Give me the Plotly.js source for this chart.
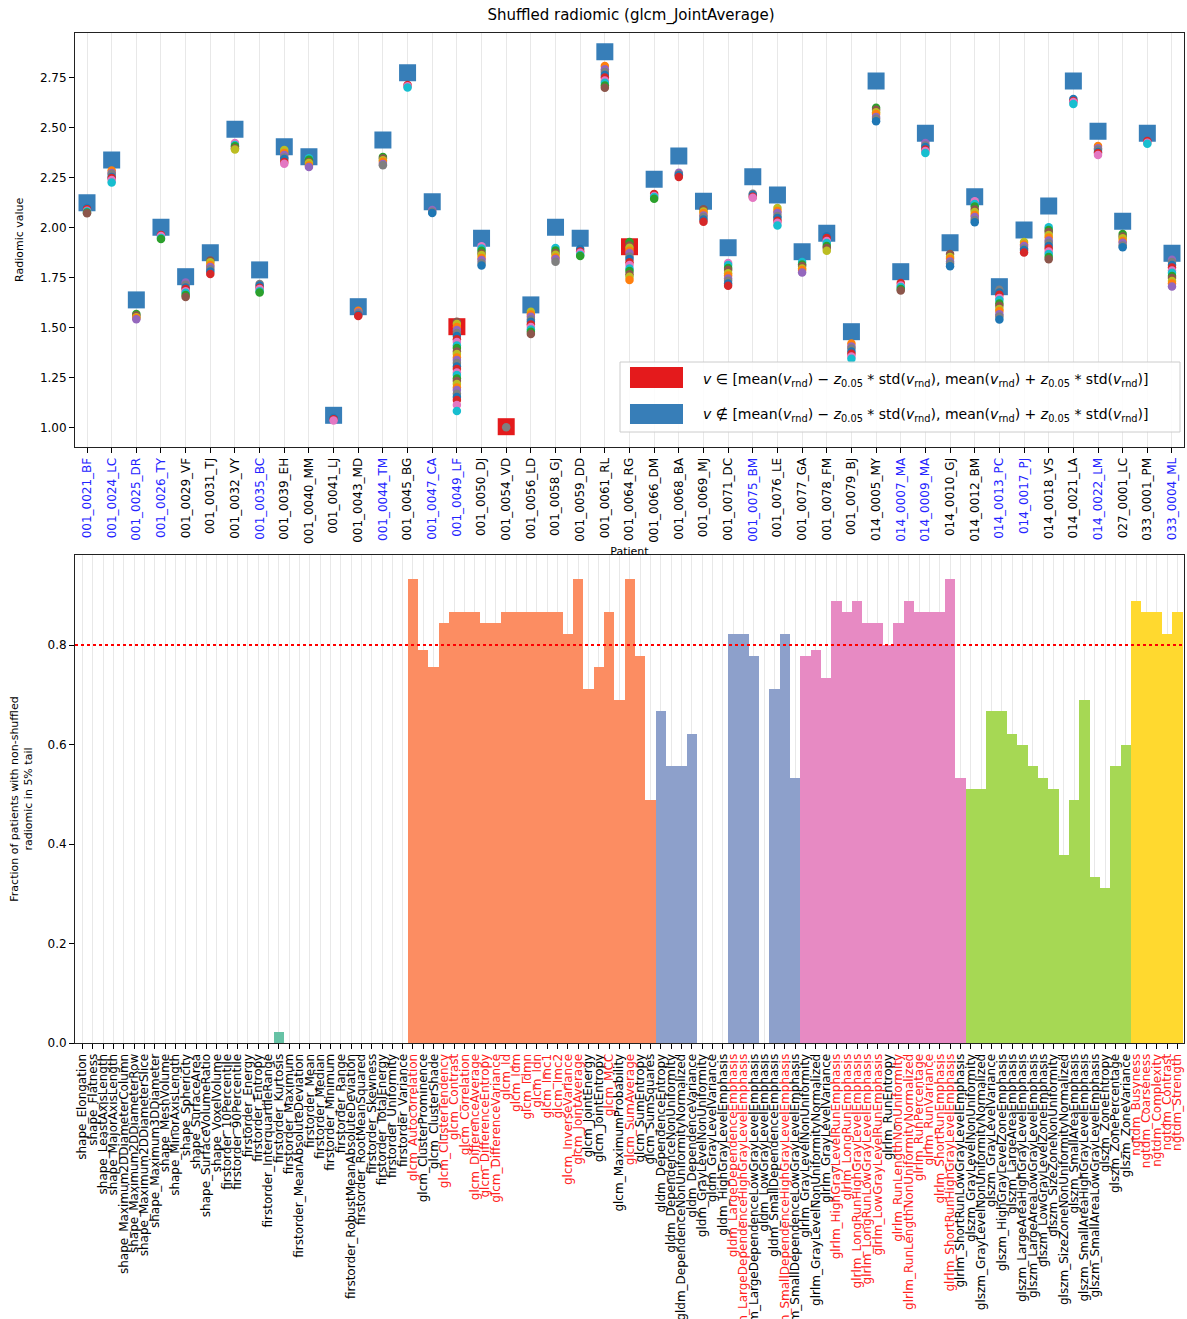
<!DOCTYPE html>
<html><head><meta charset="utf-8">
<script src="https://cdn.plot.ly/plotly-3.0.1.min.js"></script>
<style>body{margin:0;background:#fff;} #chart{width:1187px;height:1319px;}</style>
</head><body><div id="chart"></div>
<script>
// ---------- Top panel data ----------
const patients = ["001_0021_BF","001_0024_LC","001_0025_DR","001_0026_TY","001_0029_VF","001_0031_TJ","001_0032_VY","001_0035_BC","001_0039_EH","001_0040_MM","001_0041_LJ","001_0043_MD","001_0044_TM","001_0045_BG","001_0047_CA","001_0049_LF","001_0050_DJ","001_0054_VD","001_0056_LD","001_0058_GJ","001_0059_DD","001_0061_RL","001_0064_RG","001_0066_DM","001_0068_BA","001_0069_MJ","001_0071_DC","001_0075_BM","001_0076_LE","001_0077_GA","001_0078_FM","001_0079_BJ","014_0005_MY","014_0007_MA","014_0009_MA","014_0010_GJ","014_0012_BM","014_0013_PC","014_0017_PJ","014_0018_VS","014_0021_LA","014_0022_LM","027_0001_LC","033_0001_PM","033_0004_ML"];
const highlightedPatients = ["001_0021_BF","001_0024_LC","001_0025_DR","001_0026_TY","001_0035_BC","001_0044_TM","001_0047_CA","001_0049_LF","001_0075_BM","014_0007_MA","014_0009_MA","014_0013_PC","014_0017_PJ","014_0022_LM","033_0004_ML"];
const realValues = [2.123,2.337,1.637,2.0,1.753,1.873,2.49,1.787,2.403,2.353,1.06,1.603,2.437,2.773,2.128,1.503,1.945,1.003,1.612,2.0,1.945,2.878,1.903,2.24,2.357,2.13,1.898,2.253,2.162,1.878,1.97,1.478,2.732,1.778,2.47,1.923,2.153,1.703,1.987,2.107,2.732,2.48,2.03,2.47,1.87];
const inIntervalPatients = ["001_0049_LF","001_0054_VD","001_0064_RG"];
const shuffledValues = [
 [2.096,2.09,2.083,2.079,2.074,2.07],
 [2.284,2.271,2.266,2.252,2.247,2.236,2.224],
 [1.566,1.559,1.55,1.547,1.54],
 [1.962,1.956,1.947,1.941],
 [1.724,1.713,1.699,1.691,1.68,1.673,1.662,1.651],
 [1.834,1.825,1.811,1.801,1.79,1.779,1.767],
 [2.421,2.411,2.405,2.395,2.389],
 [1.716,1.709,1.698,1.691,1.68,1.674],
 [2.386,2.371,2.361,2.349,2.341,2.327,2.318],
 [2.345,2.338,2.327,2.321,2.309,2.302],
 [1.046,1.04,1.034],
 [1.583,1.574,1.569,1.561,1.556],
 [2.352,2.344,2.335,2.328,2.317,2.31],
 [2.712,2.705,2.699],
 [2.086,2.078,2.071],
 [1.528,1.517,1.502,1.487,1.471,1.456,1.44,1.426,1.409,1.396,1.379,1.366,1.349,1.336,1.322,1.304,1.291,1.274,1.262,1.244,1.231,1.216,1.199,1.186,1.168,1.152,1.136,1.112,1.082],
 [1.905,1.894,1.883,1.869,1.861,1.847,1.836,1.821,1.809],
 [1.0],
 [1.578,1.564,1.553,1.539,1.528,1.514,1.501,1.489,1.478,1.466],
 [1.896,1.884,1.872,1.863,1.849,1.841,1.828],
 [1.891,1.879,1.873,1.862,1.856],
 [2.806,2.79,2.777,2.761,2.749,2.734,2.723,2.709,2.698],
 [1.926,1.909,1.898,1.883,1.871,1.854,1.841,1.825,1.811,1.794,1.781,1.765,1.753,1.737],
 [2.166,2.157,2.151,2.143],
 [2.273,2.265,2.26,2.251],
 [2.09,2.079,2.071,2.059,2.051,2.039,2.028],
 [1.822,1.811,1.796,1.786,1.77,1.759,1.744,1.733,1.719,1.708],
 [2.168,2.162,2.153,2.148],
 [2.096,2.082,2.071,2.057,2.047,2.033,2.023,2.009],
 [1.826,1.814,1.806,1.794,1.786,1.774],
 [1.955,1.946,1.932,1.921,1.907,1.896,1.883],
 [1.419,1.404,1.394,1.379,1.368,1.354,1.343],
 [2.598,2.588,2.575,2.566,2.552,2.543,2.53],
 [1.721,1.709,1.701,1.691,1.684],
 [2.421,2.409,2.401,2.389,2.381,2.371],
 [1.866,1.852,1.843,1.829,1.819,1.805],
 [2.13,2.116,2.104,2.089,2.077,2.061,2.051,2.036,2.025],
 [1.688,1.674,1.663,1.647,1.636,1.619,1.608,1.592,1.581,1.565,1.554,1.539],
 [1.926,1.914,1.906,1.894,1.886,1.874],
 [2.0,1.987,1.976,1.961,1.949,1.934,1.921,1.906,1.894,1.879,1.867,1.851,1.84],
 [2.641,2.631,2.626,2.617],
 [2.406,2.395,2.388,2.377,2.371,2.361],
 [1.966,1.954,1.945,1.932,1.923,1.909,1.9],
 [2.431,2.423,2.418],
 [1.838,1.826,1.811,1.799,1.784,1.773,1.757,1.746,1.731,1.719,1.704]
];

// ---------- Bottom panel data ----------
const shapeFeatures = ["shape_Elongation","shape_Flatness","shape_LeastAxisLength","shape_MajorAxisLength","shape_Maximum2DDiameterColumn","shape_Maximum2DDiameterRow","shape_Maximum2DDiameterSlice","shape_Maximum3DDiameter","shape_MeshVolume","shape_MinorAxisLength","shape_Sphericity","shape_SurfaceArea","shape_SurfaceVolumeRatio","shape_VoxelVolume"];
const shapeFractions = [0,0,0,0,0,0,0,0,0,0,0,0,0,0];
const firstorderFeatures = ["firstorder_10Percentile","firstorder_90Percentile","firstorder_Energy","firstorder_Entropy","firstorder_InterquartileRange","firstorder_Kurtosis","firstorder_Maximum","firstorder_MeanAbsoluteDeviation","firstorder_Mean","firstorder_Median","firstorder_Minimum","firstorder_Range","firstorder_RobustMeanAbsoluteDeviation","firstorder_RootMeanSquared","firstorder_Skewness","firstorder_TotalEnergy","firstorder_Uniformity","firstorder_Variance"];
const firstorderFractions = [0,0,0,0,0,0.022,0,0,0,0,0,0,0,0,0,0,0,0];
const glcmFeatures = ["glcm_Autocorrelation","glcm_ClusterProminence","glcm_ClusterShade","glcm_ClusterTendency","glcm_Contrast","glcm_Correlation","glcm_DifferenceAverage","glcm_DifferenceEntropy","glcm_DifferenceVariance","glcm_Id","glcm_Idm","glcm_Idmn","glcm_Idn","glcm_Imc1","glcm_Imc2","glcm_InverseVariance","glcm_JointAverage","glcm_JointEnergy","glcm_JointEntropy","glcm_MCC","glcm_MaximumProbability","glcm_SumAverage","glcm_SumEntropy","glcm_SumSquares"];
const glcmFractions = [0.933,0.791,0.756,0.844,0.867,0.867,0.867,0.844,0.844,0.867,0.867,0.867,0.867,0.867,0.867,0.822,0.933,0.711,0.756,0.867,0.689,0.933,0.778,0.489];
const gldmFeatures = ["gldm_DependenceEntropy","gldm_DependenceNonUniformity","gldm_DependenceNonUniformityNormalized","gldm_DependenceVariance","gldm_GrayLevelNonUniformity","gldm_GrayLevelVariance","gldm_HighGrayLevelEmphasis","gldm_LargeDependenceEmphasis","gldm_LargeDependenceHighGrayLevelEmphasis","gldm_LargeDependenceLowGrayLevelEmphasis","gldm_LowGrayLevelEmphasis","gldm_SmallDependenceEmphasis","gldm_SmallDependenceHighGrayLevelEmphasis","gldm_SmallDependenceLowGrayLevelEmphasis"];
const gldmFractions = [0.667,0.556,0.556,0.622,0,0,0,0.822,0.822,0.778,0,0.711,0.822,0.533];
const glrlmFeatures = ["glrlm_GrayLevelNonUniformity","glrlm_GrayLevelNonUniformityNormalized","glrlm_GrayLevelVariance","glrlm_HighGrayLevelRunEmphasis","glrlm_LongRunEmphasis","glrlm_LongRunHighGrayLevelEmphasis","glrlm_LongRunLowGrayLevelEmphasis","glrlm_LowGrayLevelRunEmphasis","glrlm_RunEntropy","glrlm_RunLengthNonUniformity","glrlm_RunLengthNonUniformityNormalized","glrlm_RunPercentage","glrlm_RunVariance","glrlm_ShortRunEmphasis","glrlm_ShortRunHighGrayLevelEmphasis","glrlm_ShortRunLowGrayLevelEmphasis"];
const glrlmFractions = [0.778,0.791,0.733,0.889,0.867,0.889,0.844,0.844,0.8,0.844,0.889,0.867,0.867,0.867,0.933,0.533];
const glszmFeatures = ["glszm_GrayLevelNonUniformity","glszm_GrayLevelNonUniformityNormalized","glszm_GrayLevelVariance","glszm_HighGrayLevelZoneEmphasis","glszm_LargeAreaEmphasis","glszm_LargeAreaHighGrayLevelEmphasis","glszm_LargeAreaLowGrayLevelEmphasis","glszm_LowGrayLevelZoneEmphasis","glszm_SizeZoneNonUniformity","glszm_SizeZoneNonUniformityNormalized","glszm_SmallAreaEmphasis","glszm_SmallAreaHighGrayLevelEmphasis","glszm_SmallAreaLowGrayLevelEmphasis","glszm_ZoneEntropy","glszm_ZonePercentage","glszm_ZoneVariance"];
const glszmFractions = [0.511,0.511,0.667,0.667,0.622,0.6,0.556,0.533,0.511,0.378,0.489,0.689,0.333,0.311,0.556,0.6];
const ngtdmFeatures = ["ngtdm_Busyness","ngtdm_Coarseness","ngtdm_Complexity","ngtdm_Contrast","ngtdm_Strength"];
const ngtdmFractions = [0.889,0.867,0.867,0.822,0.867];
const threshold = 0.8;

// ---------- Styles ----------
const W = 1187, H = 1319;
const FONT = "DejaVu Sans";
const tab10 = ['#1f77b4','#ff7f0e','#2ca02c','#d62728','#9467bd','#8c564b','#e377c2','#7f7f7f','#bcbd22','#17becf'];
const inColor = '#e41a1c', outColor = '#377eb8';
const groups = [
  {names: shapeFeatures, vals: shapeFractions, color: '#b3b3b3'},
  {names: firstorderFeatures, vals: firstorderFractions, color: '#66c2a5'},
  {names: glcmFeatures, vals: glcmFractions, color: '#fc8d62'},
  {names: gldmFeatures, vals: gldmFractions, color: '#8da0cb'},
  {names: glrlmFeatures, vals: glrlmFractions, color: '#e78ac3'},
  {names: glszmFeatures, vals: glszmFractions, color: '#a6d854'},
  {names: ngtdmFeatures, vals: ngtdmFractions, color: '#ffd92f'}
];
const px = x => x / W, py = y => 1 - y / H;

const traces = [];
// squares (real values)
const outX = [], outY = [], inX = [], inY = [];
patients.forEach((p, i) => {
  if (inIntervalPatients.includes(p)) { inX.push(p); inY.push(realValues[i]); }
  else { outX.push(p); outY.push(realValues[i]); }
});
traces.push({type:'scatter', mode:'markers', x: outX, y: outY, xaxis:'x', yaxis:'y', showlegend:false,
  marker:{symbol:'square', size:17, color: outColor}});
traces.push({type:'scatter', mode:'markers', x: inX, y: inY, xaxis:'x', yaxis:'y', showlegend:false,
  marker:{symbol:'square', size:17, color: inColor}});
// shuffled circles
const sx = [], sy = [], sc = [];
shuffledValues.forEach((arr, i) => {
  arr.forEach((v, j) => { sx.push(patients[i]); sy.push(v); sc.push(tab10[(j * 3 + i) % 10]); });
});
traces.push({type:'scatter', mode:'markers', x: sx, y: sy, xaxis:'x', yaxis:'y', showlegend:false,
  marker:{symbol:'circle', size:8.5, color: sc}});

// bars
const allFeatures = [];
const featureText = [];
groups.forEach(g => {
  g.names.forEach((n, k) => {
    allFeatures.push(n);
    featureText.push(g.vals[k] > threshold ? '<span style="color:#ff2020">' + n + '</span>' : n);
  });
  traces.push({type:'bar', x: g.names, y: g.vals, xaxis:'x2', yaxis:'y2', width: 1, showlegend:false,
    marker:{color: g.color, line:{width:0}}});
});

const patientText = patients.map(p => highlightedPatients.includes(p) ? '<span style="color:#2323ff">' + p + '</span>' : p);

const tickFont = {family: FONT, size: 12, color: '#000'};
const layout = {
  width: W, height: H,
  margin: {l:0, r:0, t:0, b:0},
  paper_bgcolor: '#fff', plot_bgcolor: '#fff',
  font: {family: FONT, size: 12, color: '#000'},
  barmode: 'overlay', bargap: 0,
  title: {text: 'Shuffled radiomic (glcm_JointAverage)', font:{family: FONT, size: 15, color:'#000'},
    x: px(631), xanchor:'center', y: py(15), yanchor:'middle', xref:'paper', yref:'paper'},
  xaxis: {domain:[px(75), px(1184)], anchor:'y', type:'category', categoryorder:'array', categoryarray: patients,
    range:[-0.487, 44.487],
    tickmode:'array', tickvals: patients, ticktext: patientText, tickangle:-90, tickfont: tickFont,
    ticks:'outside', ticklen:5, tickcolor:'#000', showgrid:true, gridcolor:'#e8e8e8', gridwidth:1,
    showline:true, linecolor:'#222', linewidth:1, mirror:true, zeroline:false,
    title:{text:'Patient', font:{family:FONT, size:11, color:'#000'}, standoff:4}},
  yaxis: {domain:[py(447), py(32.7)], anchor:'x', range:[0.9015, 2.973],
    tickvals:[1.0,1.25,1.5,1.75,2.0,2.25,2.5,2.75], ticktext:['1.00','1.25','1.50','1.75','2.00','2.25','2.50','2.75'],
    tickfont: tickFont, ticks:'outside', ticklen:5, tickcolor:'#000', showgrid:false, zeroline:false,
    showline:true, linecolor:'#222', linewidth:1, mirror:true,
    title:{text:'Radiomic value', font:{family:FONT, size:11, color:'#000'}, standoff:14}},
  xaxis2: {domain:[px(75), px(1184)], anchor:'y2', type:'category', categoryorder:'array', categoryarray: allFeatures,
    range:[-0.72, 106.64], tickmode:'array', tickvals: allFeatures, ticktext: featureText, tickangle:-90,
    tickfont: tickFont, ticks:'outside', ticklen:5, tickcolor:'#000', showgrid:true, gridcolor:'#e8e8e8', gridwidth:1,
    showline:true, linecolor:'#222', linewidth:1, mirror:true, zeroline:false},
  yaxis2: {domain:[py(1043), py(555)], anchor:'x2', range:[0, 0.981],
    tickvals:[0,0.2,0.4,0.6,0.8], ticktext:['0.0','0.2','0.4','0.6','0.8'],
    tickfont: tickFont, ticks:'outside', ticklen:5, tickcolor:'#000', showgrid:false, zeroline:false,
    showline:true, linecolor:'#222', linewidth:1, mirror:true,
    title:{text:'Fraction of patients with non-shuffled<br>radiomic in 5% tail', font:{family:FONT, size:11, color:'#000'}, standoff:12}},
  shapes: [
    {type:'line', xref:'x2 domain', yref:'y2', x0:0, x1:1, y0: threshold, y1: threshold,
      line:{color:'#ff0000', width:2, dash:'dot'}},
    {type:'rect', xref:'paper', yref:'paper', x0: px(620), x1: px(1180), y0: py(432), y1: py(362),
      fillcolor:'rgba(255,255,255,0.85)', line:{color:'#cccccc', width:1}},
    {type:'rect', xref:'paper', yref:'paper', x0: px(630), x1: px(683), y0: py(388), y1: py(367),
      fillcolor: inColor, line:{width:0}},
    {type:'rect', xref:'paper', yref:'paper', x0: px(630), x1: px(683), y0: py(424), y1: py(404),
      fillcolor: outColor, line:{width:0}}
  ],
  annotations: [
    {xref:'paper', yref:'paper', x: px(701), y: py(380), xanchor:'left', yanchor:'middle', showarrow:false,
      font:{family:FONT, size:14, color:'#000'},
      text:'<i>v</i> ∈ [mean(<i>v</i><sub>rnd</sub>) − <i>z</i><sub>0.05</sub> * std(<i>v</i><sub>rnd</sub>), mean(<i>v</i><sub>rnd</sub>) + <i>z</i><sub>0.05</sub> * std(<i>v</i><sub>rnd</sub>)]'},
    {xref:'paper', yref:'paper', x: px(701), y: py(415), xanchor:'left', yanchor:'middle', showarrow:false,
      font:{family:FONT, size:14, color:'#000'},
      text:'<i>v</i> ∉ [mean(<i>v</i><sub>rnd</sub>) − <i>z</i><sub>0.05</sub> * std(<i>v</i><sub>rnd</sub>), mean(<i>v</i><sub>rnd</sub>) + <i>z</i><sub>0.05</sub> * std(<i>v</i><sub>rnd</sub>)]'}
  ]
};

Plotly.newPlot('chart', traces, layout, {staticPlot:true, displayModeBar:false});
</script></body></html>
